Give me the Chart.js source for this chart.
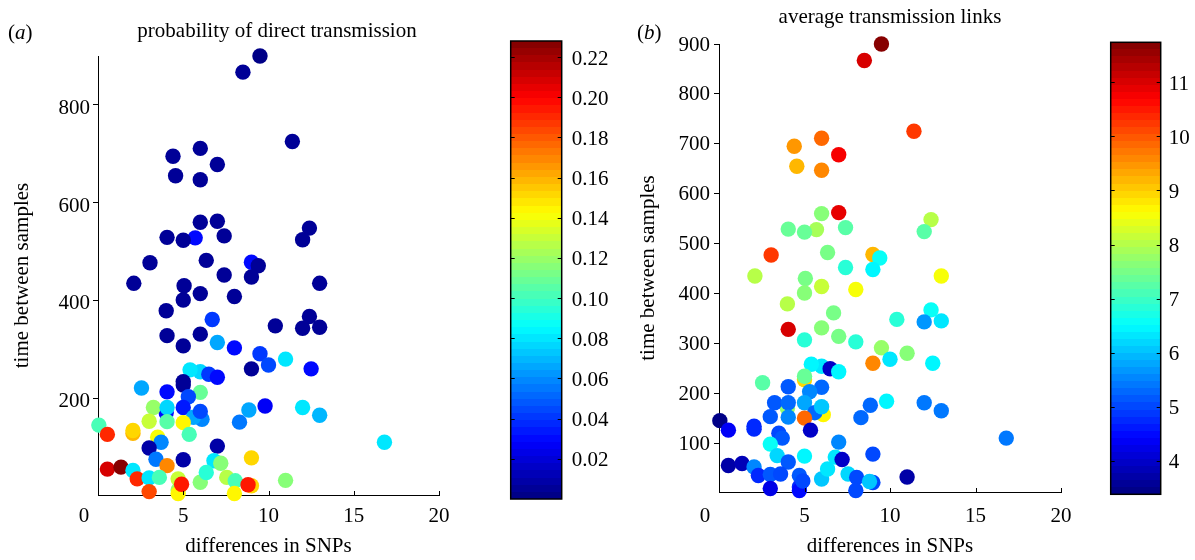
<!DOCTYPE html>
<html>
<head>
<meta charset="utf-8">
<script src="https://cdn.jsdelivr.net/npm/chart.js@4.4.1/dist/chart.umd.min.js"></script>
<style>
  body { margin: 0; background: #fff; }
  #wrap { position: relative; width: 1195px; height: 560px; overflow: hidden; font-family: "Liberation Serif", "Times New Roman", serif; }
  canvas { position: absolute; top: 0; }
  .txt { position: absolute; font-size: 21px; line-height: 24px; color: #000; white-space: nowrap; }
</style>
</head>
<body>
<div id="wrap">
  <canvas id="scatterA" width="480" height="560" style="left:0"></canvas>
  <canvas id="barA" width="120" height="560" style="left:500px"></canvas>
  <canvas id="scatterB" width="480" height="560" style="left:620px"></canvas>
  <canvas id="barB" width="95" height="560" style="left:1100px"></canvas>
  <div class="txt" style="left:8px;top:20px">(<i>a</i>)</div>
  <div class="txt" style="left:77px;top:18px;width:400px;text-align:center">probability of direct transmission</div>
  <div class="txt" style="left:637px;top:20px">(<i>b</i>)</div>
  <div class="txt" style="left:690px;top:4px;width:400px;text-align:center">average transmission links</div>
</div>
<script>
// shared positions of the samples (same in both panels)
const snpDiff = [
  9.5, 8.5, 11.4, 4.4, 6.0, 7.0, 4.55, 6.0, 6.0, 7.0,
  4.05, 5.7, 5.0, 7.4, 12.4, 12.0, 3.05, 6.35, 9.0, 9.4,
  7.4, 9.0, 2.1, 5.05, 6.0, 13.0, 5.0, 8.0, 4.0, 6.7,
  12.4, 10.4, 12.0, 13.0, 4.05, 6.0, 7.0, 5.0, 8.0, 9.5,
  11.0, 10.0, 12.5, 9.0, 6.0, 5.4, 6.5, 7.0, 5.0, 5.0,
  2.55, 4.05, 6.0, 5.3, 9.8, 12.0, 4.0, 3.25, 4.05, 5.0,
  6.1, 5.6, 6.0, 8.85, 13.0, 3.0, 4.05, 5.0, 8.3, 0.05,
  0.55, 2.05, 2.05, 5.35, 3.5, 3.7, 3.0, 7.0, 16.8, 3.4,
  5.0, 4.05, 6.8, 7.2, 9.0, 0.55, 1.35, 2.05, 2.3, 3.0,
  3.6, 3.0, 4.7, 4.7, 4.7, 4.9, 6.0, 6.35, 7.55, 8.05,
  8.0, 9.0, 8.8, 11.0
];
const timeBetween = [
  900, 867, 725, 695, 711, 678, 655, 647, 560, 562,
  529, 528, 523, 532, 548, 524, 477, 482, 478, 471,
  452, 448, 435, 430, 414, 435, 401, 408, 379, 361,
  367, 348, 343, 345, 328, 331, 314, 307, 303, 291,
  280, 268, 260, 260, 254, 258, 249, 243, 227, 234,
  221, 213, 212, 203, 184, 181, 170, 181, 181, 181,
  157, 161, 173, 176, 165, 153, 152, 150, 151, 145,
  126, 128, 134, 126, 120, 110, 98, 102, 110, 75,
  74, 62, 72, 67, 78, 55, 59, 52, 35, 37,
  38, 9, 35, 12, 5, 24, 28, 48, 38, 31,
  5, 21, 23, 32
];
// colour values
const probDirect = [
  0.003, 0.004, 0.004, 0.004, 0.004, 0.004, 0.004, 0.004, 0.004, 0.004,
  0.004, 0.03, 0.004, 0.004, 0.004, 0.004, 0.004, 0.004, 0.03, 0.004,
  0.004, 0.004, 0.004, 0.004, 0.004, 0.004, 0.004, 0.004, 0.004, 0.04,
  0.004, 0.004, 0.004, 0.004, 0.004, 0.004, 0.065, 0.004, 0.03, 0.04,
  0.08, 0.045, 0.03, 0.004, 0.075, 0.08, 0.04, 0.03, 0.004, 0.004,
  0.065, 0.03, 0.11, 0.045, 0.025, 0.08, 0.03, 0.12, 0.075, 0.035,
  0.06, 0.065, 0.045, 0.065, 0.07, 0.13, 0.105, 0.145, 0.055, 0.1,
  0.19, 0.16, 0.15, 0.1, 0.14, 0.06, 0.01, 0.01, 0.08, 0.055,
  0.008, 0.17, 0.08, 0.115, 0.15, 0.21, 0.225, 0.08, 0.19, 0.08,
  0.1, 0.185, 0.13, 0.12, 0.145, 0.195, 0.115, 0.095, 0.125, 0.1,
  0.145, 0.15, 0.195, 0.115
];
const avgLinks = [
  11.7, 11.0, 10.3, 9.4, 9.9, 10.8, 9.2, 9.6, 7.6, 10.9,
  7.3, 7.9, 7.4, 7.2, 8.0, 7.2, 10.2, 7.5, 9.2, 6.6,
  6.9, 6.5, 8.0, 7.5, 8.1, 8.6, 7.6, 8.5, 8.0, 7.5,
  6.6, 6.8, 5.7, 6.3, 11.0, 7.6, 7.5, 6.9, 6.8, 7.7,
  7.6, 6.3, 6.5, 9.6, 6.3, 6.4, 4.0, 6.4, 8.9, 7.3,
  7.2, 5.2, 5.3, 5.6, 6.5, 5.4, 7.8, 5.2, 5.3, 5.8,
  8.7, 5.3, 6.1, 5.3, 5.4, 5.2, 5.6, 9.8, 5.3, 3.4,
  4.3, 4.8, 4.8, 4.0, 5.0, 5.2, 6.6, 5.5, 5.4, 6.2,
  6.5, 5.2, 6.3, 4.0, 5.0, 3.7, 3.8, 5.5, 4.7, 5.2,
  5.0, 4.2, 5.1, 4.8, 4.5, 5.0, 6.1, 6.3, 6.2, 5.0,
  5.0, 5.0, 6.0, 3.7
];

const xTicks = [0, 5, 10, 15, 20];
const yTicksA = [200, 400, 600, 800];
const yTicksB = [100, 200, 300, 400, 500, 600, 700, 800, 900];
const cbTicksA = [0.02, 0.04, 0.06, 0.08, 0.10, 0.12, 0.14, 0.16, 0.18, 0.20, 0.22];
const cbTicksB = [4, 5, 6, 7, 8, 9, 10, 11];
const cRangeA = [0, 0.228];
const cRangeB = [3.38, 11.74];

const serif = 'Liberation Serif';
const tickFont = { family: serif, size: 21 };

// matlab style jet map, 64 levels
function jet(t) {
  t = Math.min(Math.max(t, 0), 1);
  const k = Math.min(Math.floor(t * 64), 63);
  const u = (k + 0.5) / 64;
  const f = c => Math.round(255 * Math.min(Math.max(1.5 - Math.abs(4 * u - c), 0), 1));
  return 'rgb(' + f(3) + ',' + f(2) + ',' + f(1) + ')';
}

const axisMarks = {
  id: 'axisMarks',
  afterDraw(chart, args, opts) {
    const ctx = chart.ctx;
    const a = chart.chartArea;
    ctx.save();
    ctx.strokeStyle = '#000';
    ctx.lineWidth = 1;
    if (opts.xInward) {
      const sx = chart.scales.x;
      sx.ticks.forEach(t => {
        const px = Math.round(sx.getPixelForValue(t.value)) + 0.5;
        ctx.beginPath();
        ctx.moveTo(px, a.bottom);
        ctx.lineTo(px, a.bottom - 4);
        ctx.stroke();
      });
    }
    if (opts.colorbar) {
      const sy = chart.scales.y;
      sy.ticks.forEach(t => {
        const py = Math.round(sy.getPixelForValue(t.value)) + 0.5;
        ctx.beginPath();
        ctx.moveTo(a.left, py); ctx.lineTo(a.left + 4, py);
        ctx.moveTo(a.right, py); ctx.lineTo(a.right - 4, py);
        ctx.stroke();
      });
      ctx.lineWidth = 1.5;
      ctx.strokeRect(a.left, a.top, a.right - a.left, a.bottom - a.top);
    }
    ctx.restore();
  }
};

function makeScatter(id, values, cRange, yTicks, geo) {
  const points = snpDiff.map((x, i) => ({ x: x, y: timeBetween[i] }));
  const colors = values.map(v => jet((v - cRange[0]) / (cRange[1] - cRange[0])));
  return new Chart(document.getElementById(id), {
    type: 'scatter',
    data: {
      datasets: [{
        data: points,
        xAxisID: 'x',
        yAxisID: 'y',
        backgroundColor: colors,
        pointRadius: 7.7,
        pointBorderWidth: 0,
        borderWidth: 0,
        clip: false
      }]
    },
    options: {
      responsive: false,
      animation: false,
      events: [],
      layout: { padding: { left: 0, right: geo.padRight, top: geo.padTop, bottom: 0 } },
      plugins: { legend: { display: false }, tooltip: { enabled: false }, axisMarks: { xInward: true } },
      scales: {
        x: {
          type: 'linear', min: 0, max: 20,
          afterBuildTicks: s => { s.ticks = xTicks.map(v => ({ value: v })); },
          afterFit: s => { s.height = geo.xHeight; },
          grid: { display: false, drawTicks: false },
          border: { display: true, color: '#000', width: 1 },
          ticks: { color: '#000', font: tickFont, padding: geo.xPad, maxRotation: 0, autoSkip: false,
                   callback: v => (v === 0 ? '' : String(v)) },
          title: { display: true, text: 'differences in SNPs', color: '#000', font: tickFont, padding: { top: 0, bottom: 1.4 } }
        },
        // the "0" label sits left of the y axis, as in the original
        xZero: {
          type: 'linear', axis: 'x', min: 0, max: 20, position: { y: 2 },
          afterBuildTicks: s => { s.ticks = [{ value: xTicks[0] }]; },
          grid: { display: false, drawTicks: false },
          border: { display: false },
          ticks: { color: '#000', font: tickFont, padding: geo.xPad, labelOffset: -14, maxRotation: 0, autoSkip: false }
        },
        y: {
          type: 'linear', min: 2, max: 900,
          afterBuildTicks: s => { s.ticks = yTicks.map(v => ({ value: v })); },
          afterFit: s => { s.width = geo.yWidth; },
          grid: { drawOnChartArea: false, tickLength: 5, color: '#000' },
          border: { display: true, color: '#000', width: 1 },
          ticks: { color: '#000', font: tickFont, padding: geo.yPad, labelOffset: geo.yLabelOffset, autoSkip: false },
          title: { display: true, text: 'time between samples', color: '#000', font: tickFont, padding: { top: geo.titlePad, bottom: 0 } }
        }
      }
    },
    plugins: [axisMarks]
  });
}

function makeColorbar(id, cRange, ticks, geo, fmt) {
  return new Chart(document.getElementById(id), {
    type: 'bar',
    data: {
      labels: [''],
      datasets: [{
        data: [[cRange[0], cRange[1]]],
        backgroundColor: ctx => {
          const area = ctx.chart.chartArea;
          if (!area) return '#000080';
          const g = ctx.chart.ctx.createLinearGradient(0, area.bottom, 0, area.top);
          for (let i = 0; i < 64; i++) {
            const c = jet((i + 0.5) / 64);
            g.addColorStop(i / 64, c);
            g.addColorStop((i + 1) / 64, c);
          }
          return g;
        },
        barPercentage: 1,
        categoryPercentage: 1,
        borderWidth: 0
      }]
    },
    options: {
      responsive: false,
      animation: false,
      events: [],
      layout: { padding: { left: geo.padLeft, right: 0, top: geo.padTop, bottom: geo.padBottom } },
      plugins: { legend: { display: false }, tooltip: { enabled: false }, axisMarks: { colorbar: true } },
      scales: {
        x: { display: false },
        y: {
          position: 'right', min: cRange[0], max: cRange[1],
          afterBuildTicks: s => { s.ticks = ticks.map(v => ({ value: v })); },
          afterFit: s => { s.width = geo.yWidth; },
          grid: { display: false, drawTicks: false },
          border: { display: false },
          ticks: { color: '#000', font: tickFont, padding: geo.labelPad, labelOffset: 2, autoSkip: false, callback: fmt }
        }
      }
    },
    plugins: [axisMarks]
  });
}

makeScatter('scatterA', probDirect, cRangeA, yTicksA,
  { yWidth: 98, padRight: 41, padTop: 56, xHeight: 65, xPad: 8.4, yPad: 3, yLabelOffset: 3.5, titlePad: 10 });
makeScatter('scatterB', avgLinks, cRangeB, yTicksB,
  { yWidth: 99, padRight: 39, padTop: 44, xHeight: 68, xPad: 11.4, yPad: 4, yLabelOffset: 1, titlePad: 15.4 });
makeColorbar('barA', cRangeA, cbTicksA,
  { padLeft: 10.7, padTop: 41, padBottom: 61, yWidth: 58.3, labelPad: 10 }, v => v.toFixed(2));
makeColorbar('barB', cRangeB, cbTicksB,
  { padLeft: 10.7, padTop: 42.3, padBottom: 65.7, yWidth: 34.3, labelPad: 8 }, v => String(v));
</script>
</body>
</html>
